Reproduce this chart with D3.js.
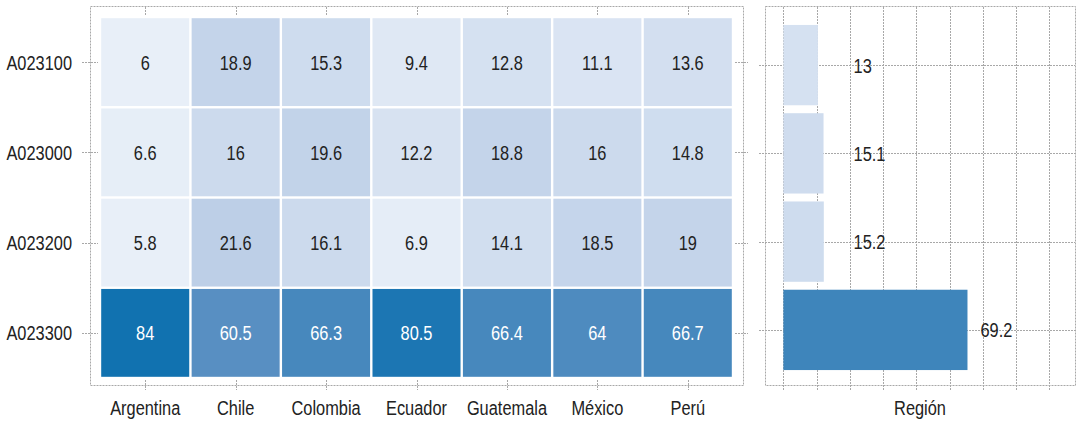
<!DOCTYPE html>
<html>
<head>
<meta charset="utf-8">
<script src="https://cdn.jsdelivr.net/npm/d3@7"></script>
<style>
  body { margin: 0; background: #fff; }
  svg text { font-family: "Liberation Sans", Arial, sans-serif; font-size: 21px; fill: #222; }
  .dot { stroke: #a8a8a8; stroke-width: 1; stroke-dasharray: 2,1; fill: none; }
</style>
</head>
<body>
<script>
// data
var countries = ["Argentina", "Chile", "Colombia", "Ecuador", "Guatemala", "México", "Perú"];
var codes = ["A023100", "A023000", "A023200", "A023300"];
var row1 = [6, 18.9, 15.3, 9.4, 12.8, 11.1, 13.6];
var row2 = [6.6, 16, 19.6, 12.2, 18.8, 16, 14.8];
var row3 = [5.8, 21.6, 16.1, 6.9, 14.1, 18.5, 19];
var row4 = [84, 60.5, 66.3, 80.5, 66.4, 64, 66.7];
var regionValues = [13, 15.1, 15.2, 69.2];
var regionLabel = "Región";
var gridTicks = [0, 12.5, 25, 37.5, 50, 62.5, 75, 87.5, 100];

var rows = [row1, row2, row3, row4];

// condensed look: squeeze a normal sans horizontally
var squeeze = 0.78;
function at(px, py) {
  return "translate(" + px + "," + py + ") scale(" + squeeze + ",1)";
}

var svg = d3.select("body")
  .append("svg")
    .attr("width", 1079)
    .attr("height", 423);

// colour ramp sampled from the cells
var color = d3.scaleLinear()
  .domain([6, 20, 60, 84])
  .range(["#e8eff8", "#c1d2e9", "#5a90c2", "#1172b0"])
  .clamp(true);

// ---------- heatmap ----------
var x = d3.scaleBand()
  .domain(countries)
  .range([100, 733]);

var y = d3.scaleBand()
  .domain(codes)
  .range([17, 378]);

var cells = [];
rows.forEach((r, i) => {
  r.forEach((v, j) => cells.push({ code: codes[i], country: countries[j], value: v }));
});

var heat = svg.append("g");

heat.append("rect")
  .attr("class", "dot")
  .attr("x", 90.5)
  .attr("y", 6.5)
  .attr("width", 653)
  .attr("height", 379);

// ticks crossing the frame
heat.selectAll(".tl")
  .data(codes)
  .enter().append("line")
    .attr("class", "dot")
    .attr("x1", 82).attr("x2", 98)
    .attr("y1", d => Math.round(y(d) + y.bandwidth() / 2) + 0.5)
    .attr("y2", d => Math.round(y(d) + y.bandwidth() / 2) + 0.5);

heat.selectAll(".tr")
  .data(codes)
  .enter().append("line")
    .attr("class", "dot")
    .attr("x1", 735).attr("x2", 748)
    .attr("y1", d => Math.round(y(d) + y.bandwidth() / 2) + 0.5)
    .attr("y2", d => Math.round(y(d) + y.bandwidth() / 2) + 0.5);

heat.selectAll(".tt")
  .data(countries)
  .enter().append("line")
    .attr("class", "dot")
    .attr("x1", d => Math.round(x(d) + x.bandwidth() / 2) + 0.5)
    .attr("x2", d => Math.round(x(d) + x.bandwidth() / 2) + 0.5)
    .attr("y1", 7).attr("y2", 15);

heat.selectAll(".tb")
  .data(countries)
  .enter().append("line")
    .attr("class", "dot")
    .attr("x1", d => Math.round(x(d) + x.bandwidth() / 2) + 0.5)
    .attr("x2", d => Math.round(x(d) + x.bandwidth() / 2) + 0.5)
    .attr("y1", 380).attr("y2", 390);

heat.selectAll(".cell")
  .data(cells)
  .enter().append("rect")
    .attr("class", "cell")
    .attr("x", d => x(d.country) + 1.2)
    .attr("y", d => y(d.code) + 1.2)
    .attr("width", x.bandwidth() - 2.4)
    .attr("height", y.bandwidth() - 2.4)
    .attr("fill", d => color(d.value));

heat.selectAll(".val")
  .data(cells)
  .enter().append("text")
    .attr("transform", d => at(x(d.country) + x.bandwidth() / 2, y(d.code) + y.bandwidth() / 2))
    .attr("dy", "0.36em")
    .attr("text-anchor", "middle")
    .style("fill", d => d.value > 40 ? "#fff" : "#222")
    .text(d => d.value);

// row labels
heat.selectAll(".rl")
  .data(codes)
  .enter().append("text")
    .attr("transform", d => at(72, y(d) + y.bandwidth() / 2))
    .attr("dy", "0.36em")
    .attr("text-anchor", "end")
    .text(d => d);

// column labels
heat.selectAll(".cl")
  .data(countries)
  .enter().append("text")
    .attr("transform", d => at(x(d) + x.bandwidth() / 2, 415))
    .attr("text-anchor", "middle")
    .text(d => d);

// ---------- region bars ----------
var xb = d3.scaleLinear()
  .domain([-6.9, 109.8])
  .range([765, 1075.5]);

var yb = d3.scaleBand()
  .domain(codes)
  .range([17, 378])
  .padding(0.09);

var bars = svg.append("g");

bars.append("rect")
  .attr("class", "dot")
  .attr("x", 765.5)
  .attr("y", 6.5)
  .attr("width", 310)
  .attr("height", 379);

bars.selectAll(".vg")
  .data(gridTicks)
  .enter().append("line")
    .attr("class", "dot")
    .attr("x1", d => Math.round(xb(d)) + 0.5)
    .attr("x2", d => Math.round(xb(d)) + 0.5)
    .attr("y1", 7).attr("y2", 391);

bars.selectAll(".hg")
  .data(codes)
  .enter().append("line")
    .attr("class", "dot")
    .attr("x1", 759).attr("x2", 1075)
    .attr("y1", d => Math.round(yb(d) + yb.bandwidth() / 2) + 0.5)
    .attr("y2", d => Math.round(yb(d) + yb.bandwidth() / 2) + 0.5);

bars.selectAll(".bar")
  .data(regionValues)
  .enter().append("rect")
    .attr("class", "bar")
    .attr("x", xb(0))
    .attr("y", (d, i) => yb(codes[i]))
    .attr("width", d => xb(d) - xb(0))
    .attr("height", yb.bandwidth())
    .attr("fill", d => color(d));

bars.selectAll(".bl")
  .data(regionValues)
  .enter().append("text")
    .attr("transform", (d, i) => at(xb(Math.max(d, 21.5)) + 13, yb(codes[i]) + yb.bandwidth() / 2))
    .attr("dy", "0.36em")
    .text(d => d);

bars.append("text")
  .attr("transform", at(920, 415))
  .attr("text-anchor", "middle")
  .text(regionLabel);
</script>
</body>
</html>
